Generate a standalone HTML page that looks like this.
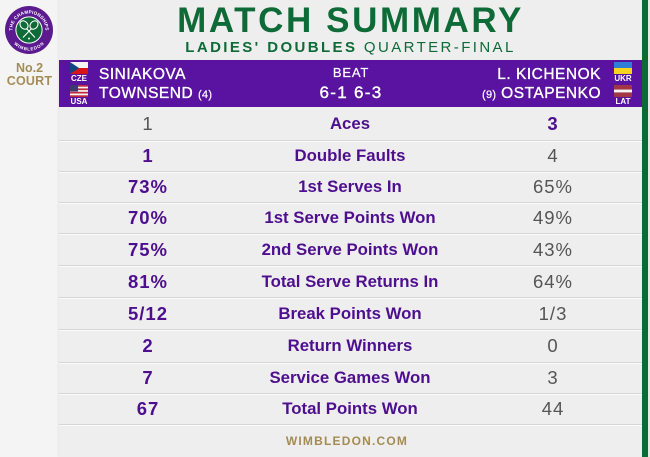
<!DOCTYPE html>
<html><head><meta charset="utf-8"><style>
*{margin:0;padding:0;box-sizing:border-box}
html,body{width:650px;height:457px;overflow:hidden;background:#f4f4f4;font-family:"Liberation Sans",Arial,sans-serif}
.abs{position:absolute}
#panel{position:absolute;left:59px;top:0;width:583px;height:457px;background:#eeeeee;box-shadow:-1px 0 2px rgba(0,0,0,0.06)}
#green{position:absolute;left:642px;top:0;width:6px;height:457px;background:#0d6a35}
#edge{position:absolute;left:648px;top:0;width:2px;height:457px;background:#e9e9e9}
.title{left:59px;width:583px;text-align:center;top:3px;height:35px;line-height:35px;font-size:35px;font-weight:bold;color:#0e6a36;letter-spacing:2.6px}
.sub{left:59px;width:583px;text-align:center;top:40px;height:16px;line-height:16px;font-size:15px;color:#0e6a36;letter-spacing:2.4px}
.sub b{font-weight:bold}
#bar{position:absolute;left:59px;top:60px;width:583px;height:47px;background:#5a13a0}
.nm{color:#fff;font-size:15.5px;letter-spacing:0.5px;-webkit-text-stroke:0.35px #fff;height:16px;line-height:16px;white-space:nowrap}
.seed{font-size:11px;-webkit-text-stroke:0.2px #fff;letter-spacing:0.3px}
.fl{font-size:8px;font-weight:bold;color:#fff;width:20px;text-align:center;height:8px;line-height:8px}
.row{position:absolute;left:59px;width:583px;border-top:1px solid #d6d6d6;box-shadow:inset 0 1px 0 #fbfbfb}
.row div{position:absolute;top:0;height:100%;display:flex;align-items:center;justify-content:center}
.l{left:49px;width:80px;font-size:18.5px;letter-spacing:1px}
.m{left:191px;width:200px;font-size:16.8px;font-weight:bold;color:#4e0f8f;white-space:nowrap}
.r{left:454px;width:80px;font-size:18.5px;letter-spacing:1px}
.p{color:#4e0f8f;font-weight:bold}
.g{color:#555555}
</style></head><body>
<div id="panel"></div>
<div id="green"></div>
<div id="edge"></div>

<svg class="abs" style="left:4px;top:5px" width="50" height="50" viewBox="0 0 50 50">
<defs><path id="arcT" d="M8.5,25 A16.5,16.5 0 0 1 41.5,25"/><path id="arcB" d="M7.5,25 A17.5,17.5 0 0 0 42.5,25"/></defs>
<circle cx="25" cy="25" r="24" fill="#5b1a8f"/>
<circle cx="25" cy="25" r="13.6" fill="#fff"/>
<circle cx="25" cy="25" r="12.6" fill="#0e6a36"/>
<text font-family="Liberation Sans" font-size="4.6" font-weight="bold" fill="#fff" letter-spacing="0.2"><textPath href="#arcT" startOffset="50%" text-anchor="middle">THE CHAMPIONSHIPS</textPath></text>
<text font-family="Liberation Sans" font-size="4.4" font-weight="bold" fill="#fff" letter-spacing="0.2" dominant-baseline="hanging"><textPath href="#arcB" startOffset="50%" text-anchor="middle">WIMBLEDON</textPath></text>
<g stroke="#fff" stroke-width="1.1" fill="none">
<ellipse cx="20" cy="20" rx="3.6" ry="4.6" transform="rotate(-40 20 20)"/>
<ellipse cx="30" cy="20" rx="3.6" ry="4.6" transform="rotate(40 30 20)"/>
<line x1="22.5" y1="23.5" x2="31" y2="32.5"/>
<line x1="27.5" y1="23.5" x2="19" y2="32.5"/>
</g>
<circle cx="25" cy="33.5" r="1" fill="#fff"/>
</svg>
<div class="abs" style="left:0;top:61px;width:59px;text-align:center;font-size:12.5px;font-weight:bold;color:#a58c56;line-height:14px">No.2</div>
<div class="abs" style="left:0;top:74px;width:59px;text-align:center;font-size:12.5px;font-weight:bold;color:#a58c56;line-height:14px;letter-spacing:0.2px">COURT</div>

<div class="abs title">MATCH SUMMARY</div>
<div class="abs sub"><b>LADIES' DOUBLES</b> QUARTER-FINAL</div>

<div id="bar"></div>
<svg class="abs" style="left:70px;top:62px" width="18" height="12" viewBox="0 0 18 12"><rect width="18" height="6" fill="#f4f4f4"/><rect y="6" width="18" height="6" fill="#d7141a"/><polygon points="0,0 9,6 0,12" fill="#11457e"/></svg>
<div class="abs fl" style="left:69px;top:75px">CZE</div>
<svg class="abs" style="left:70px;top:85px" width="18" height="12" viewBox="0 0 18 12"><rect width="18" height="12" fill="#f4f4f4"/><rect y="0" width="18" height="1.7" fill="#c2283a"/><rect y="3.4" width="18" height="1.7" fill="#c2283a"/><rect y="6.8" width="18" height="1.7" fill="#c2283a"/><rect y="10.3" width="18" height="1.7" fill="#c2283a"/><rect width="8" height="6.5" fill="#3c3b6e"/></svg>
<div class="abs fl" style="left:69px;top:98px">USA</div>
<svg class="abs" style="left:614px;top:62px" width="18" height="12" viewBox="0 0 18 12"><rect width="18" height="6" fill="#2f7fd6"/><rect y="6" width="18" height="6" fill="#f7d51c"/></svg>
<div class="abs fl" style="left:613px;top:75px">UKR</div>
<svg class="abs" style="left:614px;top:85px" width="18" height="12" viewBox="0 0 18 12"><rect width="18" height="12" fill="#a33644"/><rect y="4.6" width="18" height="2.8" fill="#f4f4f4"/></svg>
<div class="abs fl" style="left:613px;top:98px">LAT</div>

<div class="abs nm" style="left:99px;top:67px">SINIAKOVA</div>
<div class="abs nm" style="left:99px;top:86px">TOWNSEND <span class="seed">(4)</span></div>
<div class="abs nm" style="right:49px;top:67px;text-align:right">L. KICHENOK</div>
<div class="abs nm" style="right:49px;top:86px;text-align:right"><span class="seed">(9)</span> OSTAPENKO</div>
<div class="abs" style="left:300px;width:102px;top:66px;text-align:center;color:#fff;font-size:13px;line-height:13px;letter-spacing:0.8px;-webkit-text-stroke:0.2px #fff">BEAT</div>
<div class="abs" style="left:300px;width:102px;top:84px;text-align:center;color:#fff;font-size:17px;line-height:18px;letter-spacing:1.3px;-webkit-text-stroke:0.4px #fff">6-1 6-3</div>

<div class="row" style="top:108px;height:32px;border-top:none;box-shadow:none"><div class="l g">1</div><div class="m">Aces</div><div class="r p">3</div></div>
<div class="row" style="top:140px;height:31px"><div class="l p">1</div><div class="m">Double Faults</div><div class="r g">4</div></div>
<div class="row" style="top:171px;height:31px"><div class="l p">73%</div><div class="m">1st Serves In</div><div class="r g">65%</div></div>
<div class="row" style="top:202px;height:31px"><div class="l p">70%</div><div class="m">1st Serve Points Won</div><div class="r g">49%</div></div>
<div class="row" style="top:233px;height:32px"><div class="l p">75%</div><div class="m">2nd Serve Points Won</div><div class="r g">43%</div></div>
<div class="row" style="top:265px;height:32px"><div class="l p">81%</div><div class="m">Total Serve Returns In</div><div class="r g">64%</div></div>
<div class="row" style="top:297px;height:32px"><div class="l p">5/12</div><div class="m">Break Points Won</div><div class="r g">1/3</div></div>
<div class="row" style="top:329px;height:33px"><div class="l p">2</div><div class="m">Return Winners</div><div class="r g">0</div></div>
<div class="row" style="top:362px;height:31px"><div class="l p">7</div><div class="m">Service Games Won</div><div class="r g">3</div></div>
<div class="row" style="top:393px;height:31px"><div class="l p">67</div><div class="m">Total Points Won</div><div class="r g">44</div></div>
<div class="row" style="top:424px;height:33px"></div>

<div class="abs" style="left:247px;width:200px;top:434px;text-align:center;font-size:12px;line-height:14px;font-weight:bold;color:#a38b53;letter-spacing:1.2px">WIMBLEDON.COM</div>
</body></html>
